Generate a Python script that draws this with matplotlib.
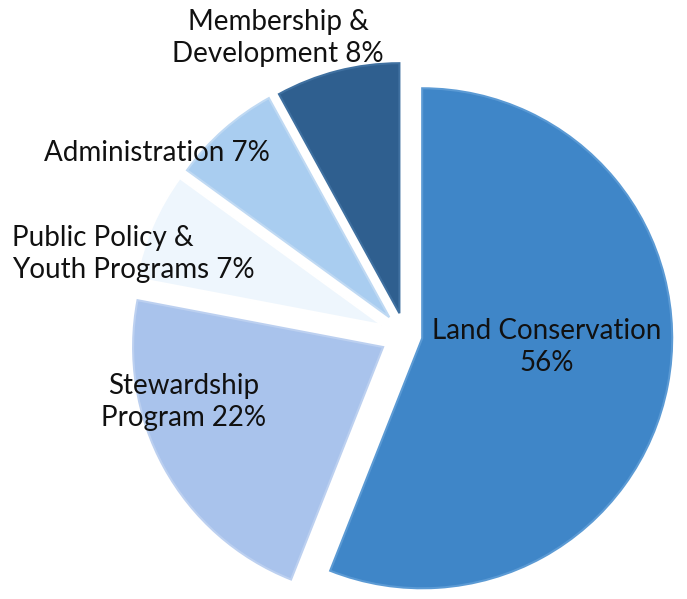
import matplotlib as mpl

mpl.use('agg')

import matplotlib.pyplot as plt

plt.rcParams['font.family'] = ['Lato', 'DejaVu Sans']

labels = ['Land Conservation\n56%', 'Stewardship\nProgram 22%',
          'Public Policy &\nYouth Programs 7%', 'Administration 7%',
          'Membership &\nDevelopment 8%']
shares = [56, 22, 7, 7, 8]
colors = ['#3f86c8', '#a9c3ec', '#eef6fd', '#a9cdf0', '#2f5f8f']
edges = ['#5b9ad4', '#bcd0f0', '#ffffff', '#bfd9f3', '#3f70a0']

W, H = 687, 599
cx, cy, R = 405, 335, 250

fig = plt.figure(figsize=(W / 100, H / 100), dpi=100)
ax = fig.add_axes([0, 0, 1, 1])

wedges, _ = ax.pie(shares, colors=colors, startangle=90, counterclock=False,
                   explode=[0.07, 0.1, 0.1, 0.095, 0.09], radius=1.0,
                   wedgeprops={'linewidth': 1.5})
for w, e in zip(wedges, edges):
    w.set_edgecolor(e)

ax.set_xlim(-cx / R, (W - cx) / R)
ax.set_ylim(-(H - cy) / R, cy / R)
ax.set_aspect('equal')
ax.axis('off')

# label positions in pixels (x, y from top)
pos = [(547, 347, 'center'), (184, 402, 'center'), (12, 254, 'left'),
       (157, 153, 'center'), (278, 38, 'center')]
for lab, (px, py, ha) in zip(labels, pos):
    fig.text(px / W, 1 - py / H, lab, ha=ha, va='center', fontsize=20,
             color='#111111', multialignment=ha, linespacing=1.28)

fig.savefig('out.png', dpi=100)
